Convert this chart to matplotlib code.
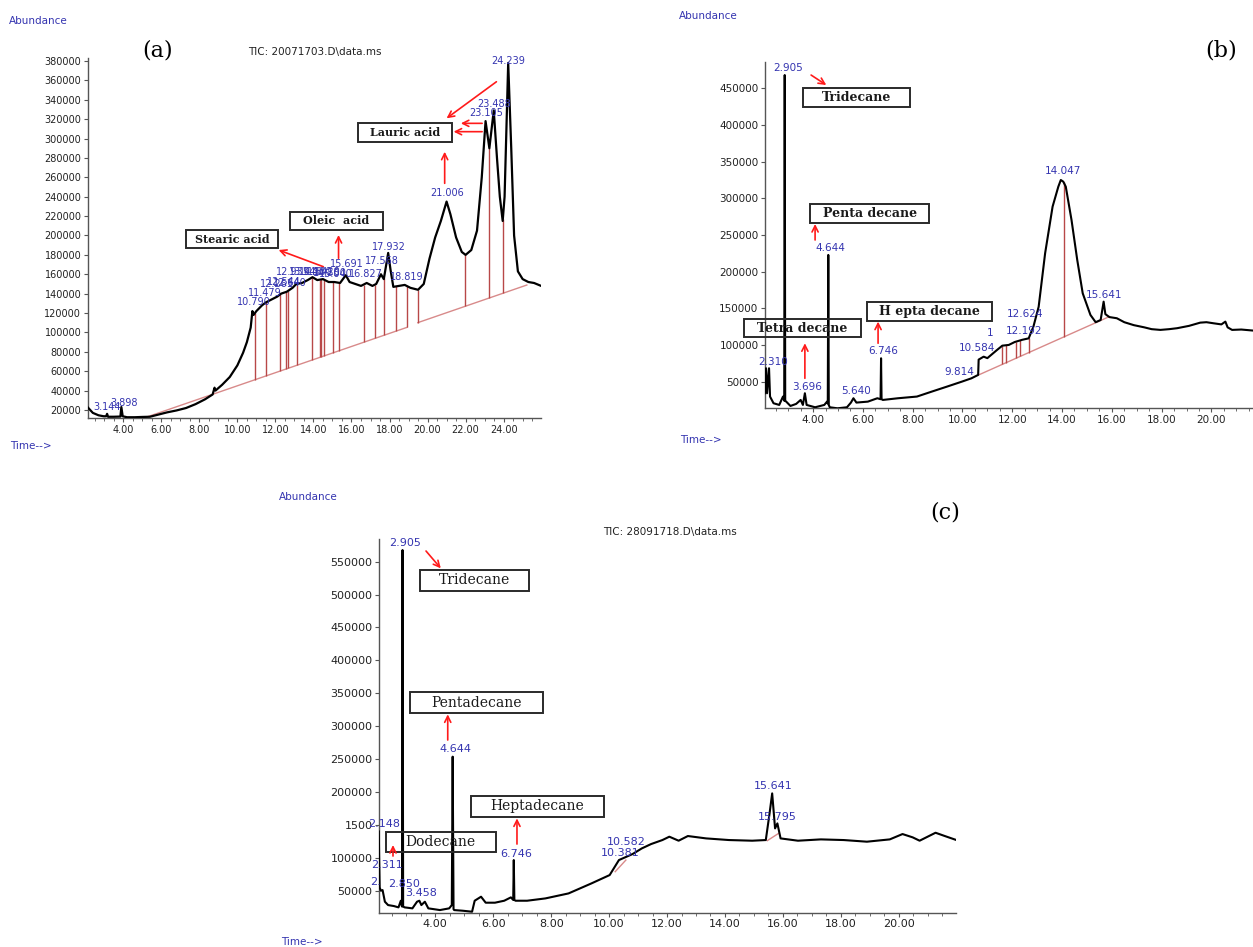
import numpy as np
import matplotlib
matplotlib.use('Agg')
import matplotlib.pyplot as plt
from matplotlib.patches import Rectangle
from matplotlib.ticker import MultipleLocator

# ---------------- Panel (a) data ----------------
a_time = [2.12, 2.4, 2.7, 2.97, 3.1, 3.15, 3.2, 3.5, 3.85, 3.9, 3.97, 4.2, 4.6, 5.0, 5.4, 5.8,
          6.3, 6.8, 7.3, 7.8, 8.3, 8.7, 8.8, 8.85, 9.2, 9.6, 10.0, 10.3, 10.5, 10.7, 10.79, 10.85,
          11.0, 11.3, 11.5, 11.8, 12.1, 12.3, 12.6, 12.9, 13.1, 13.4, 13.7, 13.95, 14.2, 14.5,
          14.8, 15.1, 15.4, 15.7, 15.9, 16.2, 16.5, 16.8, 17.1, 17.3, 17.55, 17.7, 17.93, 18.05,
          18.2, 18.5, 18.8, 19.1, 19.5, 19.8, 20.1, 20.4, 20.7, 21.0, 21.2, 21.5, 21.8, 22.0,
          22.3, 22.6, 22.85, 23.05, 23.25, 23.48, 23.65, 23.8, 23.95, 24.05, 24.24, 24.4, 24.55,
          24.75, 25.0, 25.3, 25.6, 25.97]
a_abund = [23000, 17000, 14500, 13500, 13500, 16000, 13000, 13000, 13200, 23000, 13500, 12500,
           12500, 12800, 13000, 15000, 17500, 19500, 22000, 26000, 31000, 36000, 43000, 40000,
           46000, 54000, 66000, 79000, 90000, 105000, 122000, 118000, 122000, 128000, 131000,
           134000, 137000, 140000, 142000, 146000, 150000, 151000, 154000, 157000, 154000,
           155000, 152000, 152000, 151000, 159000, 152000, 150000, 148000, 151000, 148000,
           150000, 160000, 155000, 182000, 165000, 147000, 148000, 149000, 146000, 144000,
           150000, 176000, 198000, 215000, 235000, 222000, 198000, 183000, 180000, 185000,
           205000, 260000, 318000, 290000, 329000, 280000, 240000, 215000, 240000, 378000,
           290000, 200000, 163000, 155000, 152000, 151000, 148000]
a_base1_time = [5.2, 18.93]
a_base1_abund = [12500, 105300]
a_base2_time = [19.49, 25.22]
a_base2_abund = [110100, 148900]
a_drop_times = [10.91, 11.51, 12.26, 12.54, 12.64, 13.11, 13.95, 14.33, 14.42, 14.55, 15.04,
                15.36, 16.64, 17.24, 17.71, 18.33, 18.93, 19.49, 21.97, 23.25, 23.96]
a_label_text = ["3.144", "3.898", "10.790", "11.479", "12.261", "12.544", "12.640", "12.931",
                "13.948", "14.330", "14.420", "14.550", "15.040", "15.691", "16.827", "17.568",
                "17.932", "18.819", "21.006", "23.105", "23.488", "24.239"]
a_label_time = [3.15, 4.04, 10.89, 11.42, 12.08, 12.45, 12.77, 12.92, 13.62, 14.14, 14.52,
                14.89, 15.17, 15.74, 16.77, 17.62, 17.99, 18.89, 21.03, 23.10, 23.49, 24.22]
a_label_abund = [23400, 26900, 131700, 141000, 150000, 152300, 151500, 162700, 162700, 162700,
                 162000, 161000, 160300, 170600, 160300, 173700, 188400, 157500, 243500, 326000,
                 336000, 380000]
a_yticks = list(range(20000, 380001, 20000))
a_xticks = [4, 6, 8, 10, 12, 14, 16, 18, 20, 22, 24]

# ---------------- Panel (b) data ----------------
b_time = [2.06, 2.11, 2.15, 2.23, 2.27, 2.41, 2.64, 2.79, 2.84, 2.86, 2.88, 2.92, 3.09, 3.32,
          3.50, 3.59, 3.67, 3.74, 4.08, 4.45, 4.56, 4.59, 4.61, 4.63, 4.67, 4.98, 5.36, 5.52,
          5.62, 5.74, 6.20, 6.58, 6.71, 6.73, 6.75, 6.80, 7.41, 8.17, 8.77, 9.38, 9.98, 10.36,
          10.63, 10.65, 10.85, 11.0, 11.39, 11.6, 11.86, 12.1, 12.4, 12.66, 12.85, 13.06, 13.32,
          13.62, 13.85, 13.95, 14.05, 14.15, 14.38, 14.61, 14.83, 15.14, 15.35, 15.55, 15.67,
          15.74, 15.9, 16.2, 16.5, 16.88, 17.3, 17.6, 17.95, 18.3, 18.62, 19.1, 19.55, 19.8,
          20.09, 20.4, 20.56, 20.65, 20.83, 21.2, 21.67]
b_abund = [34100, 68200, 34100, 68200, 29600, 20500, 18200, 29600, 24000, 468000, 24000,
           22700, 16800, 19600, 25000, 18200, 34100, 18200, 15000, 18200, 22700, 20000, 222700,
           18000, 15000, 13600, 15000, 21400, 27300, 21400, 22700, 27300, 26000, 81800, 26000,
           25000, 27300, 29600, 36400, 43200, 50000, 54500, 59100, 80000, 84000, 82000, 93200,
           99000, 100000, 104000, 107000, 109000, 125000, 152000, 225000, 288600, 315800,
           324900, 322600, 315800, 270400, 215900, 170400, 140900, 131000, 134000, 159000,
           142000, 138000, 136400, 131000, 127000, 124000, 121500, 120500, 121500, 122800,
           126000, 130400, 131000, 129500, 128000, 131800, 124000, 120500, 121000, 119600]
b_base_time = [10.65, 15.9]
b_base_abund = [59100, 138600]
b_drop_times = [11.59, 11.75, 12.16, 12.32, 12.66, 14.06]
b_label_text = ["2.905", "2.310", "3.696", "4.644", "5.640", "6.746", "9.814", "10.584", "1",
                "12.192", "12.624", "14.047", "15.641"]
b_label_time = [2.98, 2.40, 3.77, 4.68, 5.71, 6.80, 9.89, 10.60, 11.12, 12.46, 12.53, 14.05, 15.67]
b_label_abund = [477100, 77300, 42300, 232700, 37700, 92300, 63000, 95900, 116000, 119100,
                 141900, 337200, 168200]
b_yticks = [50000, 100000, 150000, 200000, 250000, 300000, 350000, 400000, 450000]
b_xticks = [4, 6, 8, 10, 12, 14, 16, 18, 20]

# ---------------- Panel (c) data ----------------
c_time = [2.05, 2.06, 2.08, 2.12, 2.18, 2.26, 2.37, 2.57, 2.73, 2.81, 2.85, 2.87, 2.89, 2.94,
          3.21, 3.37, 3.45, 3.52, 3.64, 3.76, 4.16, 4.48, 4.57, 4.60, 4.63, 4.65, 4.95, 5.27,
          5.36, 5.58, 5.74, 6.06, 6.38, 6.61, 6.69, 6.71, 6.73, 6.77, 7.17, 7.8, 8.6, 9.39,
          10.02, 10.34, 10.81, 11.13, 11.45, 11.84, 12.08, 12.4, 12.72, 13.35, 14.14, 14.94,
          15.41, 15.54, 15.63, 15.73, 15.81, 15.92, 16.52, 17.31, 18.1, 18.9, 19.69, 20.13,
          20.48, 20.72, 21.27, 21.59, 21.99]
c_abund = [140000, 105000, 55000, 50000, 51000, 33300, 28200, 26700, 24700, 34800, 26000,
           567700, 26000, 24700, 23200, 33300, 34800, 28200, 33300, 23200, 20600, 23200, 28200,
           253700, 22000, 20600, 19600, 18100, 34800, 40900, 31800, 31800, 34800, 39900, 36000,
           96600, 36000, 34800, 34800, 38300, 45900, 61100, 73800, 96600, 105700, 114300,
           120900, 127000, 132100, 126000, 133100, 129500, 127000, 126000, 127000, 167500,
           197900, 144700, 152300, 129500, 126000, 128000, 127000, 124500, 128000, 136100,
           131100, 126000, 138100, 133100, 127000]
c_red_time = [[10.21, 10.58], [15.46, 15.85]]
c_red_abund = [[78900, 96600], [126000, 137100]]
c_label_text = ["2.905", "4.644", "6.746", "10.582", "10.381", "15.641", "15.795", "2.148",
                "2.311", "2.", "2.850", "3.458"]
c_label_time = [2.97, 4.68, 6.80, 10.58, 10.39, 15.65, 15.81, 2.23, 2.34, 1.93, 2.92, 3.52]
c_label_abund = [577900, 264800, 105700, 123500, 106700, 209100, 161500, 151300, 89000,
                 63700, 60100, 46000]
c_yticks = [50000, 100000, 150000, 200000, 250000, 300000, 350000, 400000, 450000, 500000, 550000]
c_yticklabels = ["50000", "100000", "1500", "200000", "250000", "300000", "350000", "400000",
                 "450000", "500000", "550000"]
c_xticks = [4, 6, 8, 10, 12, 14, 16, 18, 20]

# ---------------- figure ----------------
W, H = 1253, 947
fig = plt.figure(figsize=(W / 100, H / 100), dpi=100)
BLUE = '#3434b0'
RED = '#ff1a1a'
DROP = '#b84848'
BASE = '#d88a8a'


def px(x, y):
    return x / W, 1 - y / H


def style_axes(ax, xticks, yticks, ylabels, tick_fs):
    for s in ['top', 'right']:
        ax.spines[s].set_visible(False)
    for s in ['left', 'bottom']:
        ax.spines[s].set_color('#555555')
        ax.spines[s].set_linewidth(1.0)
    ax.set_xticks(xticks)
    ax.set_xticklabels([f'{v:.2f}' for v in xticks], fontsize=tick_fs, color='#222222')
    ax.set_yticks(yticks)
    ax.set_yticklabels(ylabels, fontsize=tick_fs, color='#222222')
    ax.xaxis.set_minor_locator(MultipleLocator(0.5))
    ax.tick_params(axis='both', which='major', length=3, width=0.8, color='#555555', pad=1.5)
    ax.tick_params(axis='x', which='minor', length=2, width=0.6, color='#555555')
    ax.set_facecolor('none')


def box(ax, t0, t1, a0, a1, label, fs, weight):
    ax.add_patch(Rectangle((t0, a0), t1 - t0, a1 - a0, fill=False, edgecolor='#2a2a2a',
                           linewidth=1.4, clip_on=False, zorder=6))
    ax.text((t0 + t1) / 2, (a0 + a1) / 2, label, ha='center', va='center', fontsize=fs,
            family='DejaVu Serif', fontweight=weight, color='#1a1a1a', zorder=7, clip_on=False)


def arrow(ax, tail, head):
    ax.annotate('', xy=head, xytext=tail, annotation_clip=False,
                arrowprops=dict(arrowstyle='->', color=RED, lw=1.2, mutation_scale=11,
                                shrinkA=0, shrinkB=0), zorder=8)


def peak_labels(ax, texts, times, abunds, fs):
    for s, t, a in zip(texts, times, abunds):
        ax.text(t, a, s, ha='center', va='center', fontsize=fs, color=BLUE, zorder=9,
                clip_on=False, family='DejaVu Sans')


# ---- (a)
axa = fig.add_axes([87.5 / W, 1 - 418.3 / H, 453.6 / W, 360 / H])
axa.set_xlim(2.12, 25.97)
axa.set_ylim(11400, 382800)
style_axes(axa, a_xticks, a_yticks, [str(v) for v in a_yticks], 7)
axa.plot(a_base1_time, a_base1_abund, color=BASE, lw=1.0, zorder=2)
axa.plot(a_base2_time, a_base2_abund, color=BASE, lw=1.0, zorder=2)
for t in a_drop_times:
    top = np.interp(t, a_time, a_abund)
    if t <= a_base1_time[-1]:
        bot = np.interp(t, a_base1_time, a_base1_abund)
    else:
        bot = np.interp(t, a_base2_time, a_base2_abund)
    axa.vlines(t, bot, top, color=DROP, lw=1.0, zorder=2)
axa.plot(a_time, a_abund, color='black', lw=1.6, zorder=3)
peak_labels(axa, a_label_text, a_label_time, a_label_abund, 7)
box(axa, 7.29, 12.13, 186800, 205700, 'Stearic acid', 8, 'bold')
box(axa, 12.77, 17.65, 205700, 224500, 'Oleic  acid', 8, 'bold')
box(axa, 16.36, 21.28, 296800, 316400, 'Lauric acid', 8, 'bold')
arrow(axa, (14.52, 167800), (12.17, 185000))
arrow(axa, (15.32, 176500), (15.32, 200500))
arrow(axa, (23.62, 358600), (21.0, 320900))
arrow(axa, (22.87, 315700), (21.75, 315700))
arrow(axa, (22.87, 307100), (21.37, 307100))
arrow(axa, (20.9, 253800), (20.9, 286400))

# ---- (b)
axb = fig.add_axes([764.8 / W, 1 - 408.3 / H, (W - 764.8) / W, 346.6 / H])
axb.set_xlim(2.06, 21.67)
axb.set_ylim(13600, 486200)
style_axes(axb, b_xticks, b_yticks, [str(v) for v in b_yticks], 7.5)
axb.plot(b_base_time, b_base_abund, color=BASE, lw=1.0, zorder=2)
for t in b_drop_times:
    top = np.interp(t, b_time, b_abund)
    bot = np.interp(t, b_base_time, b_base_abund)
    axb.vlines(t, bot, top, color=DROP, lw=1.0, zorder=2)
axb.plot(b_time, b_abund, color='black', lw=1.5, zorder=3)
peak_labels(axb, b_label_text, b_label_time, b_label_abund, 7.5)
box(axb, 3.59, 7.91, 424900, 449900, 'Tridecane', 9, 'bold')
box(axb, 3.89, 8.67, 266700, 292200, 'Penta decane', 9, 'bold')
box(axb, 1.23, 5.92, 110400, 135400, 'Tetra decane', 9, 'bold')
box(axb, 6.15, 11.2, 133200, 158100, 'H epta decane', 9, 'bold')
arrow(axb, (3.92, 468000), (4.53, 454400))
arrow(axb, (4.08, 243100), (4.08, 264900))
arrow(axb, (3.67, 54500), (3.67, 102300))
arrow(axb, (6.61, 102300), (6.61, 131800))

# ---- (c)
axc = fig.add_axes([378.8 / W, 1 - 912.7 / H, 577.6 / W, 373.4 / H])
axc.set_xlim(2.05, 21.99)
axc.set_ylim(16600, 584000)
style_axes(axc, c_xticks, c_yticks, c_yticklabels, 8)
for tt, aa in zip(c_red_time, c_red_abund):
    axc.plot(tt, aa, color=BASE, lw=1.0, zorder=2)
axc.plot(c_time, c_abund, color='black', lw=1.5, zorder=3)
peak_labels(axc, c_label_text, c_label_time, c_label_abund, 8)
box(axc, 3.48, 7.25, 505900, 537300, 'Tridecane', 10, 'normal')
box(axc, 3.14, 7.72, 320500, 351400, 'Pentadecane', 10, 'normal')
box(axc, 5.22, 9.82, 162500, 194400, 'Heptadecane', 10, 'normal')
box(axc, 2.29, 6.09, 109300, 139700, 'Dodecane', 10, 'normal')
arrow(axc, (3.68, 566200), (4.19, 539900))
arrow(axc, (4.43, 279000), (4.43, 318000))
arrow(axc, (6.82, 120900), (6.82, 159900))
arrow(axc, (2.54, 102700), (2.54, 119400))

# ---- outer texts
def ftext(x, y, s, **kw):
    fig.text(*px(x, y), s, **kw)

ftext(9, 20.7, 'Abundance', fontsize=7.5, color=BLUE, ha='left', va='center')
ftext(10, 446, 'Time-->', fontsize=7.5, color=BLUE, ha='left', va='center')
ftext(158, 50, '(a)', fontsize=16, family='DejaVu Serif', ha='center', va='center')
ftext(315, 51.7, 'TIC: 20071703.D\\data.ms', fontsize=7.5, color='#222222', ha='center', va='center')
ftext(679, 16, 'Abundance', fontsize=7.5, color=BLUE, ha='left', va='center')
ftext(680, 440, 'Time-->', fontsize=7.5, color=BLUE, ha='left', va='center')
ftext(1221, 50, '(b)', fontsize=16, family='DejaVu Serif', ha='center', va='center')
ftext(279, 497, 'Abundance', fontsize=7.5, color=BLUE, ha='left', va='center')
ftext(281.5, 941.7, 'Time-->', fontsize=7.5, color=BLUE, ha='left', va='center')
ftext(945, 513, '(c)', fontsize=16, family='DejaVu Serif', ha='center', va='center')
ftext(669.6, 531.7, 'TIC: 28091718.D\\data.ms', fontsize=7.5, color='#222222', ha='center', va='center')

fig.savefig('out.png', dpi=100, facecolor='white')
